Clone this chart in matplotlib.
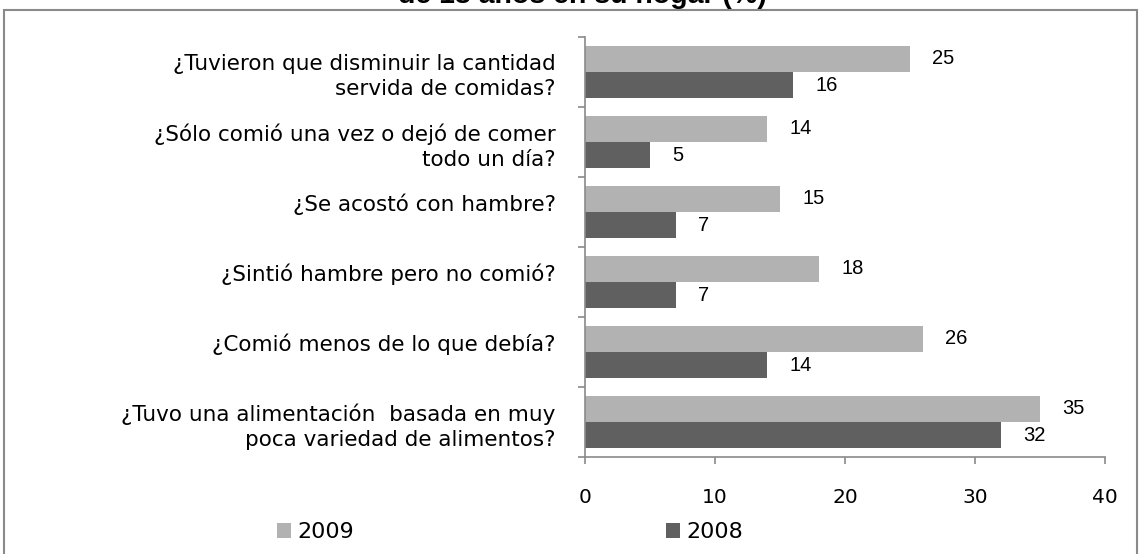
import matplotlib.pyplot as plt
import matplotlib.patches as mpatches
import numpy as np

# datos (de arriba hacia abajo)
preguntas = [
    "¿Tuvieron que disminuir la cantidad\nservida de comidas?",
    "¿Sólo comió una vez o dejó de comer\ntodo un día?",
    "¿Se acostó con hambre?\n",
    "¿Sintió hambre pero no comió?\n",
    "¿Comió menos de lo que debía?\n",
    "¿Tuvo una alimentación  basada en muy\npoca variedad de alimentos?",
]
valores_2009 = [25, 14, 15, 18, 26, 35]
valores_2008 = [16, 5, 7, 7, 14, 32]
ticks_x = [0, 10, 20, 30, 40]

c2009 = '#b2b2b2'
c2008 = '#606060'
gris = '#8a8a8a'

W, H = 1145, 554
fig = plt.figure(figsize=(W / 100, H / 100), dpi=100)
ax = fig.add_axes([585 / W, 1 - 457 / H, 520 / W, 420 / H])

y = np.arange(len(preguntas))
alto = 0.36
b1 = ax.barh(y - alto / 2 - 0.007, valores_2009, height=alto, color=c2009, label='2009')
b2 = ax.barh(y + alto / 2 + 0.007, valores_2008, height=alto, color=c2008, label='2008')

for barras in (b1, b2):
    for b in barras:
        ax.annotate(f'{b.get_width():g}', (b.get_width(), b.get_y() + b.get_height() / 2),
                    xytext=(16, 0), textcoords='offset points', ha='left', va='center',
                    fontsize=14.5, family='Liberation Sans', color='black')

ax.set_xlim(0, 40)
ax.set_ylim(len(preguntas) - 0.5, -0.5)
ax.set_xticks(ticks_x)
ax.set_xticklabels([str(t) for t in ticks_x], fontsize=14.5, family='DejaVu Sans')
ax.set_yticks(np.arange(-0.5, len(preguntas), 1.0))
ax.set_yticklabels([])
ax.set_yticks(y, minor=True)
ax.set_yticklabels(preguntas, minor=True, fontsize=15.5, family='DejaVu Sans',
                   linespacing=1.33, ha='right', multialignment='right')
ax.tick_params(axis='y', which='minor', length=0, pad=21)
ax.tick_params(axis='y', which='major', length=5, color=gris, width=1.2, direction='out')
ax.tick_params(axis='x', length=5, color=gris, width=1.2, direction='out', pad=17)

for s in ['top', 'right']:
    ax.spines[s].set_visible(False)
for s in ['left', 'bottom']:
    ax.spines[s].set_color(gris)
    ax.spines[s].set_linewidth(1.2)

fig.legend(handles=[b1, b2], labels=['2009', '2008'], loc='center', ncol=2,
           bbox_to_anchor=(510 / W, 1 - 532 / H), frameon=False,
           prop={'family': 'DejaVu Sans', 'size': 16},
           handlelength=0.65, handleheight=0.65, handletextpad=0.3, columnspacing=14)

# título cortado en el borde superior
fig.text(582 / W, 1 - 3 / H, 'de 18 años en su hogar (%)', ha='center', va='baseline',
         fontsize=20.5, fontweight='bold', family='Liberation Sans')

# marco exterior
fig.patches.append(mpatches.Rectangle((4 / W, -0.1), 1133 / W, 1.1 - 10 / H,
                                      transform=fig.transFigure, fill=False,
                                      edgecolor=gris, linewidth=1.5))

fig.savefig('out.png', dpi=100)
